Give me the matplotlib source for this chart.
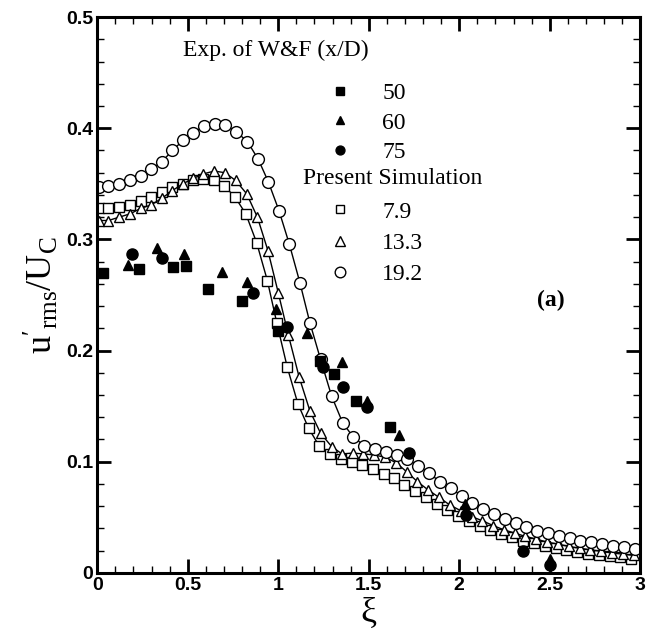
import matplotlib
matplotlib.use("Agg")
import matplotlib.pyplot as plt
from matplotlib.ticker import MultipleLocator

plt.rcParams['mathtext.fontset'] = 'custom'
plt.rcParams['mathtext.rm'] = 'Liberation Serif'
plt.rcParams['mathtext.it'] = 'Liberation Serif:italic'

# experiment of W&F, x/D = 50, 60, 75
exp50_x = [0.03, 0.23, 0.42, 0.49, 0.61, 0.80, 1.00, 1.23, 1.31, 1.43, 1.62]
exp50_y = [0.270, 0.273, 0.275, 0.276, 0.255, 0.245, 0.218, 0.191, 0.179, 0.155, 0.131]
exp60_x = [0.17, 0.33, 0.48, 0.69, 0.83, 0.99, 1.16, 1.35, 1.49, 1.67, 2.03, 2.50]
exp60_y = [0.277, 0.292, 0.287, 0.271, 0.262, 0.237, 0.216, 0.190, 0.155, 0.124, 0.062, 0.012]
exp75_x = [0.19, 0.36, 0.86, 1.05, 1.25, 1.36, 1.49, 1.72, 2.04, 2.35, 2.50]
exp75_y = [0.287, 0.283, 0.252, 0.221, 0.185, 0.167, 0.149, 0.108, 0.052, 0.020, 0.007]

# present simulation, x/D = 7.9, 13.3, 19.2
sim79_x = [0.011, 0.062, 0.118, 0.182, 0.241, 0.298, 0.357, 0.416, 0.473, 0.532,
           0.587, 0.647, 0.703, 0.762, 0.821, 0.881, 0.940, 0.992, 1.050, 1.109,
           1.168, 1.227, 1.286, 1.347, 1.405, 1.464, 1.525, 1.584, 1.641, 1.696,
           1.755, 1.816, 1.875, 1.935, 1.994, 2.053, 2.114, 2.172, 2.233, 2.292,
           2.353, 2.411, 2.472, 2.533, 2.592, 2.651, 2.711, 2.770, 2.831, 2.890, 2.951]
sim79_y = [0.328, 0.3285, 0.329, 0.331, 0.335, 0.338, 0.343, 0.347, 0.350, 0.353,
           0.354, 0.353, 0.348, 0.338, 0.323, 0.297, 0.263, 0.225, 0.185, 0.152,
           0.130, 0.114, 0.107, 0.1025, 0.100, 0.097, 0.0935, 0.089, 0.085, 0.079,
           0.0737, 0.068, 0.062, 0.0567, 0.0513, 0.047, 0.0425, 0.0387, 0.035, 0.032,
           0.029, 0.0267, 0.0245, 0.022, 0.0207, 0.0186, 0.017, 0.0156, 0.0147, 0.0138, 0.0126]
sim133_x = [0.011, 0.062, 0.121, 0.182, 0.241, 0.298, 0.357, 0.416, 0.473, 0.532,
            0.587, 0.647, 0.706, 0.765, 0.826, 0.885, 0.943, 1.001, 1.056, 1.115,
            1.175, 1.234, 1.295, 1.352, 1.411, 1.470, 1.530, 1.589, 1.650, 1.709,
            1.769, 1.828, 1.887, 1.948, 2.009, 2.068, 2.128, 2.187, 2.246, 2.307,
            2.366, 2.426, 2.485, 2.546, 2.605, 2.666, 2.725, 2.785, 2.844, 2.905, 2.963]
sim133_y = [0.317, 0.317, 0.320, 0.323, 0.328, 0.331, 0.337, 0.344, 0.350, 0.355,
            0.359, 0.3615, 0.360, 0.353, 0.341, 0.320, 0.290, 0.2515, 0.214, 0.1765,
            0.1457, 0.1256, 0.1136, 0.107, 0.1077, 0.107, 0.106, 0.104, 0.0992, 0.091,
            0.082, 0.0746, 0.068, 0.061, 0.0558, 0.0506, 0.0468, 0.0425, 0.0387, 0.0357,
            0.0327, 0.0303, 0.0276, 0.0258, 0.0237, 0.022, 0.0207, 0.0192, 0.0177, 0.0168, 0.0156]
sim192_x = [0.011, 0.062, 0.121, 0.182, 0.241, 0.298, 0.357, 0.416, 0.473, 0.532,
            0.590, 0.651, 0.708, 0.767, 0.830, 0.890, 0.945, 1.004, 1.061, 1.120,
            1.175, 1.234, 1.295, 1.356, 1.415, 1.475, 1.534, 1.595, 1.654, 1.712,
            1.773, 1.834, 1.893, 1.954, 2.014, 2.073, 2.132, 2.193, 2.252, 2.312,
            2.371, 2.432, 2.491, 2.550, 2.610, 2.669, 2.730, 2.789, 2.849, 2.908, 2.969]
sim192_y = [0.347, 0.348, 0.350, 0.353, 0.357, 0.363, 0.370, 0.380, 0.389, 0.396,
            0.402, 0.404, 0.403, 0.397, 0.388, 0.372, 0.352, 0.326, 0.296, 0.261,
            0.225, 0.192, 0.159, 0.135, 0.122, 0.1145, 0.111, 0.109, 0.106, 0.102,
            0.0965, 0.0896, 0.082, 0.0762, 0.069, 0.063, 0.0576, 0.0528, 0.0486, 0.0447,
            0.041, 0.038, 0.0357, 0.0333, 0.0312, 0.029, 0.0273, 0.0258, 0.0243, 0.0228, 0.0213]

exp_labels = ['50', '60', '75']
sim_labels = ['7.9', '13.3', '19.2']

serif = 'Liberation Serif'

fig = plt.figure(figsize=(6.48, 6.35), dpi=100)
ax = fig.add_axes([0.150, 0.098, 0.838, 0.875])

# simulation: line + open markers
s1, = ax.plot(sim79_x, sim79_y, '-', color='black', lw=1.0, marker='s', ms=6.5,
              mfc='white', mec='black', mew=1.0)
s2, = ax.plot(sim133_x, sim133_y, '-', color='black', lw=1.0, marker='^', ms=7.5,
              mfc='white', mec='black', mew=1.0)
s3, = ax.plot(sim192_x, sim192_y, '-', color='black', lw=1.0, marker='o', ms=8.5,
              mfc='white', mec='black', mew=1.0)

# experiments: filled markers
e1, = ax.plot(exp50_x, exp50_y, 's', color='black', ms=6.5, zorder=3)
e2, = ax.plot(exp60_x, exp60_y, '^', color='black', ms=7.5, zorder=3)
e3, = ax.plot(exp75_x, exp75_y, 'o', color='black', ms=8, zorder=3)

ax.set_xlim(0, 3)
ax.set_ylim(0, 0.5)
ax.xaxis.set_major_locator(MultipleLocator(0.5))
ax.xaxis.set_minor_locator(MultipleLocator(0.1))
ax.yaxis.set_major_locator(MultipleLocator(0.1))
ax.yaxis.set_minor_locator(MultipleLocator(0.02))
ax.xaxis.set_major_formatter(plt.FuncFormatter(lambda v, p: '%g' % v))
ax.yaxis.set_major_formatter(plt.FuncFormatter(lambda v, p: '%g' % v))
ax.tick_params(which='major', direction='in', length=10, width=2, labelsize=14, pad=3)
ax.tick_params(which='minor', direction='in', length=5, width=1)
ax.tick_params(which='both', top=True, right=True)
for lab in ax.get_xticklabels() + ax.get_yticklabels():
    lab.set_fontweight('bold')
    lab.set_family('Liberation Sans')
for sp in ax.spines.values():
    sp.set_linewidth(2.2)

ax.set_xlabel('ξ', family=serif, fontsize=26, labelpad=2)
ax.set_ylabel(r"$\mathrm{u'}_{\mathrm{rms}}/\mathrm{U}_{\mathrm{C}}$", fontsize=26, labelpad=4)

ax.text(0.158, 0.941, 'Exp. of W&F (x/D)', transform=ax.transAxes, family=serif,
        fontsize=17, va='center', ha='left')
ax.text(0.379, 0.710, 'Present Simulation', transform=ax.transAxes, family=serif,
        fontsize=17, va='center', ha='left')
ax.text(0.835, 0.49, '(a)', transform=ax.transAxes, family=serif, fontsize=17,
        fontweight='bold', va='center', ha='center')

leg1 = ax.legend([e1, e2, e3], exp_labels, loc='upper left', bbox_to_anchor=(0.425, 0.882),
                 frameon=False, prop={'family': serif, 'size': 17}, handlelength=1.0,
                 handletextpad=1.3, labelspacing=0.33, borderpad=0, borderaxespad=0,
                 markerscale=0.8)
ax.add_artist(leg1)
ax.legend([s1, s2, s3], sim_labels, loc='upper left', bbox_to_anchor=(0.425, 0.669),
          frameon=False, prop={'family': serif, 'size': 17}, handlelength=1.0,
          handletextpad=1.3, labelspacing=0.42, borderpad=0, borderaxespad=0,
          markerscale=0.9)
# hide legend lines for the simulation handles
for h in ax.get_legend().legend_handles:
    h.set_linestyle('none')

fig.savefig('out.png', dpi=100)
